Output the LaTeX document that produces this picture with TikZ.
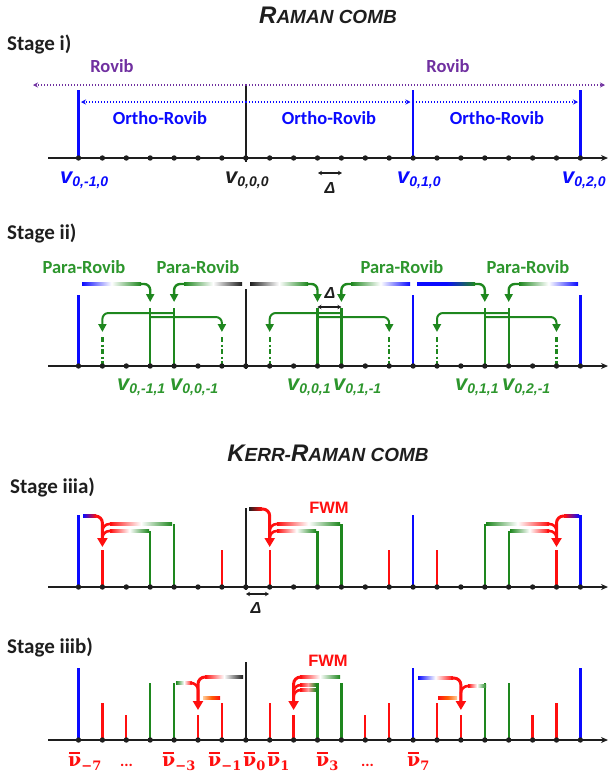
\documentclass[tikz,border=0pt]{standalone}
\usepackage{fontspec}
\setmainfont{Carlito}
\newfontfamily\arialf{Liberation Sans}
\newfontfamily\nuf{DejaVu Serif}
\usetikzlibrary{arrows.meta}
\definecolor{cblue}{RGB}{10,10,255}
\definecolor{cgreen}{RGB}{30,135,30}
\definecolor{tgreen}{RGB}{45,150,45}
\definecolor{cpurple}{RGB}{112,48,160}
\definecolor{cred}{RGB}{255,15,15}
\definecolor{cblack}{RGB}{30,30,30}
\newcommand\kx[1]{78.5+23.9*#1}
\newcommand\vlab[1]{{\arialf\bfseries\itshape\fontsize{22}{24}\selectfont v\raisebox{-3pt}{\fontsize{14}{16}\selectfont #1}}}
\newcommand\nub[1]{{\nuf\bfseries\fontsize{19}{24}\selectfont\setbox0\hbox{ν}\rlap{\kern1pt\raisebox{\dimexpr\ht0+2.5pt}{\rule{\dimexpr\wd0-2pt}{1.7pt}}}\box0\raisebox{-4pt}{\fontsize{13}{16}\selectfont#1}}}
\newcommand\gbar[6]{\shade[left color=#4,right color=#6,middle color=#5] (#1,{#3-1.3}) rectangle (#2,{#3+1.3});}
\tikzset{
  axisline/.style={line width=2pt, cblack, -{Stealth[length=7pt,width=6pt]}},
  bl/.style={cblue, line width=2.3pt},
  gl/.style={cgreen, line width=2.3pt},
  rl/.style={cred, line width=2.3pt},
  kl/.style={cblack, line width=2.3pt},
  gdd/.style={cgreen, line width=2.3pt, dash pattern=on 5pt off 2.5pt on 2pt off 2.5pt},
  garr/.style={cgreen, line width=2.4pt, rounded corners=6pt, -{Triangle[length=8pt,width=8pt]}},
  garrs/.style={cgreen, line width=2pt, rounded corners=6pt, -{Triangle[length=8pt,width=8pt]}},
  rarr/.style={cred, line width=3pt, rounded corners=7pt, -{Triangle[length=9pt,width=10pt]}},
  rjoin/.style={cred, line width=2.6pt, rounded corners=7pt},
  dlt/.style={cblack, line width=1.3pt, {Stealth[length=4pt,width=4.5pt]}-{Stealth[length=4pt,width=4.5pt]}},
  stagelbl/.style={anchor=west, inner sep=0pt, text=cblack, font=\fontsize{21}{24}\selectfont\bfseries},
  cal/.style={inner sep=0pt, font=\fontsize{18.5}{20}\selectfont\bfseries},
  vl/.style={anchor=base west, inner sep=0pt},
  titl/.style={inner sep=0pt, text=cblack},
  dlbl/.style={inner sep=0pt, text=cblack, font=\arialf\bfseries\itshape\fontsize{16}{18}\selectfont},
  fwm/.style={inner sep=0pt, text=cred, font=\arialf\bfseries\fontsize{16.5}{18}\selectfont}
}
\begin{document}
\begin{tikzpicture}[x=1pt,y=-1pt]
\useasboundingbox (0,0) rectangle (609,772);

% ---------------- RAMAN COMB title
\node[titl] (t1) at (328,15) {\arialf\bfseries\itshape\fontsize{24}{26}\selectfont R\fontsize{19}{21}\selectfont AMAN COMB};

% ---------------- Stage i
\node[stagelbl] (s1) at (7,44) {Stage i)};
\node[cal, text=cpurple] (rv1) at (112,66) {Rovib};
\node[cal, text=cpurple] (rv2) at (448,66) {Rovib};
\draw[bl] (\kx{0},90) -- (\kx{0},158);
\draw[kl] (\kx{7},84) -- (\kx{7},162);
\draw[bl] (\kx{14},90) -- (\kx{14},158);
\draw[bl] (\kx{21},90) -- (\kx{21},158);
\draw[cpurple, line width=1.5pt, dash pattern=on 1.3pt off 1.7pt, -{Stealth[length=5pt,width=5pt]}] (\kx{7},85) -- (33,85);
\draw[cpurple, line width=1.5pt, dash pattern=on 1.3pt off 1.7pt, -{Stealth[length=5pt,width=5pt]}] (\kx{7},85) -- (605,85);
\draw[cblue, line width=1.5pt, dash pattern=on 1.3pt off 1.7pt, -{Stealth[length=5pt,width=5pt]}] (\kx{7},102) -- (81,102);
\draw[cblue, line width=1.5pt, dash pattern=on 1.3pt off 1.7pt, -{Stealth[length=5pt,width=5pt]}] (\kx{7},102) -- (410.5,102);
\draw[cblue, line width=1.5pt, dash pattern=on 1.3pt off 1.7pt, -{Stealth[length=5pt,width=5pt]}] (\kx{14},102) -- (578,102);
\node[cal, text=cblue] (o1) at (160,118) {Ortho-Rovib};
\node[cal, text=cblue] (o2) at (329,118) {Ortho-Rovib};
\node[cal, text=cblue] (o3) at (497,118) {Ortho-Rovib};
\draw[axisline] (48,158) -- (608,158);
\foreach \k in {0,...,21} \fill[cblack] (\kx{\k},158) circle (2.7);
\node[vl, text=cblue] (l1) at (60,183) {\vlab{0,-1,0}};
\node[vl, text=cblack] (l2) at (225,183) {\vlab{0,0,0}};
\node[vl, text=cblue] (l3) at (397,183) {\vlab{0,1,0}};
\node[vl, text=cblue] (l4) at (562,183) {\vlab{0,2,0}};
\draw[dlt] (318,173) -- (342,173);
\node[dlbl] (d1) at (330,188) {Δ};

% ---------------- Stage ii
\node[stagelbl] (s2) at (7,233) {Stage ii)};
\node[cal, text=tgreen] (p1) at (84,267) {Para-Rovib};
\node[cal, text=tgreen] (p2) at (198,267) {Para-Rovib};
\node[cal, text=tgreen] (p3) at (402,267) {Para-Rovib};
\node[cal, text=tgreen] (p4) at (528,267) {Para-Rovib};
\draw[bl] (\kx{0},295) -- (\kx{0},366);
\draw[kl] (\kx{7},289) -- (\kx{7},369);
\draw[bl] (\kx{14},295) -- (\kx{14},366);
\draw[bl] (\kx{21},295) -- (\kx{21},366);
\foreach \k in {3,4,10,11,17,18} \draw[gl] (\kx{\k},308) -- (\kx{\k},366);
\foreach \k in {1,6,8,13,15,20} \draw[gdd] (\kx{\k},337) -- (\kx{\k},366);
% upper Para-Rovib arrows
\gbar{82}{141}{284}{cblue}{white}{cgreen}
\draw[garr] (140,284) -| (\kx{3},302);
\gbar{184}{242}{284}{cgreen}{white}{cblack}
\draw[garr] (185,284) -| (\kx{4},302);
\gbar{250}{308}{284}{cblack}{white}{cgreen}
\draw[garr] (307,284) -| (\kx{10},302);
\gbar{351}{410}{284}{cgreen}{white}{cblue}
\draw[garr] (352,284) -| (\kx{11},302);
\gbar{417}{475}{284}{cblue}{cblue}{cgreen}
\draw[garr] (474,284) -| (\kx{17},302);
\gbar{519}{578}{284}{cgreen}{white}{cblue}
\draw[garr] (520,284) -| (\kx{18},302);
% lower arrows
\draw[garrs] (\kx{4},313) -| (\kx{1},332);
\draw[garrs] (\kx{3},317) -| (\kx{6},332);
\draw[garrs] (\kx{11},313) -| (\kx{8},332);
\draw[garrs] (\kx{10},317) -| (\kx{13},332);
\draw[garrs] (\kx{18},313) -| (\kx{15},332);
\draw[garrs] (\kx{17},317) -| (\kx{20},332);
\draw[axisline] (48,366) -- (608,366);
\foreach \k in {0,...,21} \fill[cblack] (\kx{\k},366) circle (2.7);
\draw[dlt] (\kx{10},307) -- (\kx{11},307);
\node[dlbl] (d2) at (330,293) {Δ};
\node[vl, text=tgreen] (m1) at (117,390) {\vlab{0,-1,1}};
\node[vl, text=tgreen] (m2) at (170,390) {\vlab{0,0,-1}};
\node[vl, text=tgreen] (m3) at (287,390) {\vlab{0,0,1}};
\node[vl, text=tgreen] (m4) at (333,390) {\vlab{0,1,-1}};
\node[vl, text=tgreen] (m5) at (455,390) {\vlab{0,1,1}};
\node[vl, text=tgreen] (m6) at (502,390) {\vlab{0,2,-1}};

% ---------------- KERR-RAMAN COMB title
\node[titl] (t2) at (328,453) {\arialf\bfseries\itshape\fontsize{24}{26}\selectfont K\fontsize{19}{21}\selectfont ERR-\fontsize{24}{26}\selectfont R\fontsize{19}{21}\selectfont AMAN COMB};

% ---------------- Stage iiia
\node[stagelbl] (s3) at (10,487) {Stage iiia)};
\node[fwm] (f1) at (329,508) {FWM};
\draw[bl] (\kx{0},515) -- (\kx{0},587);
\draw[kl] (\kx{7},508) -- (\kx{7},590);
\draw[bl] (\kx{14},515) -- (\kx{14},587);
\draw[bl] (\kx{21},515) -- (\kx{21},587);
\foreach \k in {4,11,17} \draw[gl] (\kx{\k},524) -- (\kx{\k},587);
\foreach \k in {3,10,18} \draw[gl] (\kx{\k},531) -- (\kx{\k},587);
\foreach \k in {1,6,8,13,15,20} \draw[rl] (\kx{\k},550) -- (\kx{\k},587);
% left FWM
\gbar{83}{96}{516}{cblue}{cblue!50!cred}{cred}
\draw[rarr] (95,516) -| (\kx{1},547);
\gbar{110}{172}{524}{cred}{white}{cgreen}
\draw[rjoin] (112,524) -| (\kx{1},540);
\gbar{110}{149}{531}{cred}{white}{cgreen}
\draw[rjoin] (112,531) -| (\kx{1},540);
% middle FWM
\gbar{249}{262}{509}{cblack}{cblack!50!cred}{cred}
\draw[rarr] (261,509) -| (\kx{8},547);
\gbar{277}{340}{524}{cred}{white}{cgreen}
\draw[rjoin] (279,524) -| (\kx{8},540);
\gbar{277}{316}{531}{cred}{white}{cgreen}
\draw[rjoin] (279,531) -| (\kx{8},540);
% right FWM
\gbar{564}{579}{516}{cred}{cblue!50!cred}{cblue}
\draw[rarr] (566,516) -| (\kx{20},547);
\gbar{486}{549}{524}{cgreen}{white}{cred}
\draw[rjoin] (547,524) -| (\kx{20},540);
\gbar{510}{549}{531}{cgreen}{white}{cred}
\draw[rjoin] (547,531) -| (\kx{20},540);
\draw[axisline] (48,587) -- (608,587);
\foreach \k in {0,...,21} \fill[cblack] (\kx{\k},587) circle (2.7);
\draw[dlt] (246,594) -- (269,594);
\node[dlbl] (d3) at (256,608) {Δ};

% ---------------- Stage iiib
\node[stagelbl] (s4) at (7,647) {Stage iiib)};
\node[fwm] (f2) at (328,661) {FWM};
\foreach \k in {0,14,21} \draw[bl] (\kx{\k},668) -- (\kx{\k},740);
\draw[kl] (\kx{7},662) -- (\kx{7},740);
\foreach \k in {3,4,10,11,17,18} \draw[gl] (\kx{\k},683) -- (\kx{\k},740);
\foreach \k in {1,6,8,13,15,20} \draw[rl] (\kx{\k},703) -- (\kx{\k},740);
\foreach \k in {2,5,9,12,16,19} \draw[rl] (\kx{\k},715) -- (\kx{\k},740);
% FWM 1
\gbar{205}{243}{677}{cred}{white}{cblack}
\draw[rarr] (207,677) -| (\kx{5},710);
\gbar{176}{192}{683}{cgreen}{white}{cred}
\draw[rjoin] (190,683) -| (\kx{5},703);
\gbar{203}{220}{698}{orange!40!white}{orange!70!cred}{cred}
% FWM 2
\gbar{300}{340}{677}{cred}{white}{cgreen}
\draw[rarr] (302,677) -| (\kx{9},710);
\gbar{300}{316}{685}{cred}{cred!40!white}{cgreen}
\draw[rjoin] (302,685) -| (\kx{9},703);
\gbar{300}{316}{690}{cred}{cred!40!white}{cgreen}
\draw[rjoin] (302,690) -| (\kx{9},703);
% FWM 3
\gbar{418}{453}{678}{cblue}{white}{cred}
\draw[rarr] (451,678) -| (\kx{16},710);
\gbar{468}{486}{686}{cred}{white}{cgreen}
\draw[rjoin] (470,686) -| (\kx{16},703);
\gbar{438}{457}{698}{cred}{orange!70!cred}{orange!40!white}
\draw[axisline] (48,740) -- (608,740);
\foreach \k in {0,...,21} \fill[cblack] (\kx{\k},740) circle (2.7);
% labels
\node[vl, text=cred] (n1) at (68,766) {\nub{−7}};
\node[vl, text=cred] (n2) at (120,766) {\fontsize{16}{18}\selectfont\bfseries ...};
\node[vl, text=cred] (n3) at (162,766) {\nub{−3}};
\node[vl, text=cred] (n4) at (208,766) {\nub{−1}};
\node[vl, text=cred] (n5) at (243,766) {\nub{0}};
\node[vl, text=cred] (n6) at (267,766) {\nub{1}};
\node[vl, text=cred] (n7) at (316,766) {\nub{3}};
\node[vl, text=cred] (n8) at (361,766) {\fontsize{16}{18}\selectfont\bfseries ...};
\node[vl, text=cred] (n9) at (407,766) {\nub{7}};
\end{tikzpicture}
\end{document}
